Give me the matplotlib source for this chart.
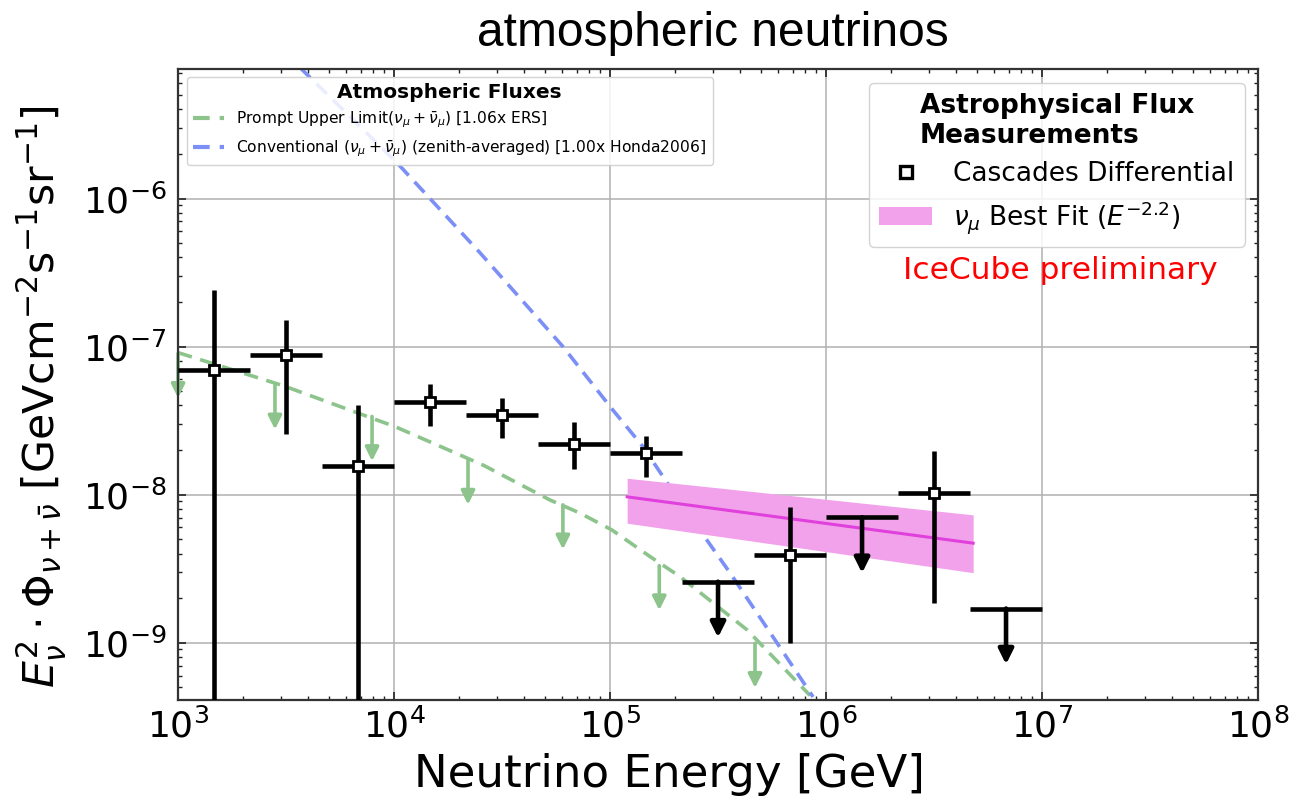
import matplotlib
matplotlib.use("Agg")
import matplotlib.pyplot as plt
import numpy as np
from matplotlib.lines import Line2D
from matplotlib.patches import Patch

# ---------------- data ----------------
# Cascades differential: bin edges, centers, flux and error bounds
bin_lo = [1.0e3, 2.154e3, 4.642e3, 1.0e4, 2.154e4, 4.642e4, 1.0e5, 2.154e5, 4.642e5, 1.0e6, 2.154e6, 4.642e6]
bin_hi = [2.154e3, 4.642e3, 1.0e4, 2.154e4, 4.642e4, 1.0e5, 2.154e5, 4.642e5, 1.0e6, 2.154e6, 4.642e6, 1.0e7]
bin_center = [1.468e3, 3.162e3, 6.813e3, 1.468e4, 3.162e4, 6.813e4, 1.468e5, 3.162e5, 6.813e5, 1.468e6, 3.162e6, 6.813e6]
flux = [6.9e-8, 8.8e-8, 1.55e-8, 4.25e-8, 3.46e-8, 2.19e-8, 1.9e-8, 2.58e-9, 3.92e-9, 7.03e-9, 1.02e-8, 1.7e-9]
flux_lo = [1e-12, 2.57e-8, 1e-12, 2.92e-8, 2.43e-8, 1.49e-8, 1.32e-8, np.nan, 1.0e-9, np.nan, 1.86e-9, np.nan]
flux_hi = [2.4e-7, 1.5e-7, 4.0e-8, 5.6e-8, 4.48e-8, 3.07e-8, 2.5e-8, np.nan, 8.2e-9, np.nan, 1.98e-8, np.nan]
is_upper_limit = [False, False, False, False, False, False, False, True, False, True, False, True]

# Prompt upper limit (green dashed) curve
prompt_E = [1.0e3, 3.08e3, 1.01e4, 2.59e4, 5.27e4, 7.26e4, 1.02e5, 1.53e5, 2.11e5, 4.31e5, 8.43e5]
prompt_flux = [9.1e-8, 5.43e-8, 2.88e-8, 1.58e-8, 9.2e-9, 7.5e-9, 5.77e-9, 3.82e-9, 2.79e-9, 1.22e-9, 4.4e-10]
# Prompt upper-limit arrows
prompt_arrow_E = [1.0e3, 2.81e3, 7.91e3, 2.20e4, 6.05e4, 1.69e5, 4.69e5]
prompt_arrow_flux = [9.0e-8, 5.51e-8, 3.37e-8, 1.71e-8, 8.53e-9, 3.31e-9, 9.9e-10]

# Conventional (blue dashed) curve
conv_E = [3.67e3, 1.033e4, 2.50e4, 6.05e4, 1.03e5, 1.42e5, 2.11e5, 3.60e5, 6.12e5, 8.71e5]
conv_flux = [7.66e-6, 1.74e-6, 4.3e-7, 1.0e-7, 3.73e-8, 2.11e-8, 8.9e-9, 2.95e-9, 9.3e-10, 4.3e-10]

# nu_mu best fit band
fit_E = [1.2e5, 4.8e6]
fit_center = [9.66e-9, 4.7e-9]
fit_low = [6.41e-9, 2.97e-9]
fit_high = [1.29e-8, 7.3e-9]

xticks = [1e3, 1e4, 1e5, 1e6, 1e7, 1e8]
yticks = [1e-9, 1e-8, 1e-7, 1e-6]

# ---------------- styling constants ----------------
GREEN = "#8cc48c"
BLUE = "#7b8ff7"
PINK = "#f2a2ea"
MAGENTA = "#e040dc"
UL_ARROW_FACTOR = 0.42
PROMPT_ARROW_FACTOR = 0.5
DASH = (0, (4, 2.4))

fig = plt.figure(figsize=(12.94, 8.01), dpi=100)
ax = fig.add_axes([0.1376, 0.1261, 0.8346, 0.7878])
ax.set_xscale("log")
ax.set_yscale("log")
ax.set_xlim(1e3, 1e8)
ax.set_ylim(4.1e-10, 7.5e-6)

ax.grid(True, which="major", color="#b0b0b0", lw=1.1, zorder=0)

# curves
ax.plot(prompt_E, prompt_flux, ls=DASH, color=GREEN, lw=2.6, zorder=2)
ax.plot(conv_E, conv_flux, ls=DASH, color=BLUE, lw=2.6, zorder=2)
for e, v in zip(prompt_arrow_E, prompt_arrow_flux):
    ax.annotate("", xy=(e, v * PROMPT_ARROW_FACTOR), xytext=(e, v),
                arrowprops=dict(arrowstyle="-|>", color=GREEN, lw=2.6,
                                mutation_scale=20, shrinkA=0, shrinkB=0),
                zorder=2)

# fit band
ax.fill_between(fit_E, fit_low, fit_high, color=PINK, lw=0, zorder=3)
ax.plot(fit_E, fit_center, color=MAGENTA, lw=2.2, zorder=3)

# data points
bin_center = np.array(bin_center)
flux = np.array(flux)
for i in range(len(flux)):
    xe = [[bin_center[i] - bin_lo[i]], [bin_hi[i] - bin_center[i]]]
    if is_upper_limit[i]:
        ax.errorbar([bin_center[i]], [flux[i]], xerr=xe, fmt="none", ecolor="k",
                    elinewidth=3.3, capsize=0, zorder=5)
        ax.annotate("", xy=(bin_center[i], flux[i] * UL_ARROW_FACTOR),
                    xytext=(bin_center[i], flux[i]),
                    arrowprops=dict(arrowstyle="-|>", color="k", lw=3.3,
                                    mutation_scale=22, shrinkA=0, shrinkB=0),
                    zorder=5)
    else:
        ye = [[flux[i] - flux_lo[i]], [flux_hi[i] - flux[i]]]
        ax.errorbar([bin_center[i]], [flux[i]], xerr=xe, yerr=ye, fmt="s",
                    mfc="white", mec="k", mew=2.0, ms=7.5, ecolor="k",
                    elinewidth=3.3, capsize=0, zorder=5)

# axes styling
ax.set_xticks(xticks)
ax.set_yticks(yticks)
ax.tick_params(which="both", direction="in", top=True, right=True, color="#222222")
ax.tick_params(which="major", length=6, width=1.2, labelsize=26)
ax.tick_params(axis="x", which="major", pad=6)
ax.tick_params(axis="y", which="major", pad=8)
ax.tick_params(which="minor", length=3, width=1.0)
for s in ax.spines.values():
    s.set_color("#333333")
    s.set_linewidth(1.6)

ax.set_xlabel("Neutrino Energy [GeV]", fontsize=32.5, labelpad=6)
ax.xaxis.label.set_x(0.455)
ax.set_ylabel(r"$E_{\nu}^{2}\cdot\Phi_{\nu+\bar{\nu}}$ [GeVcm$^{-2}$s$^{-1}$sr$^{-1}$]",
              fontsize=30.7, labelpad=11)
ax.yaxis.label.set_y(0.48)

# legends
h1 = [Line2D([], [], ls=DASH, color=GREEN, lw=3),
      Line2D([], [], ls=DASH, color=BLUE, lw=3)]
l1 = [r"Prompt Upper Limit($\nu_{\mu}+\bar{\nu}_{\mu}$) [1.06x ERS]",
      r"Conventional ($\nu_{\mu}+\bar{\nu}_{\mu}$) (zenith-averaged) [1.00x Honda2006]"]
leg1 = ax.legend(h1, l1, title="Atmospheric Fluxes", loc="upper left",
                 bbox_to_anchor=(0.008, 0.988), borderaxespad=0, fontsize=11.2,
                 title_fontproperties={"weight": "bold", "size": 14.5},
                 handlelength=2.0, labelspacing=0.5, framealpha=0.85, fancybox=True)
ax.add_artist(leg1)

h2 = [Line2D([], [], ls="none", marker="s", mfc="white", mec="k", mew=2.4, ms=8),
      Patch(facecolor=PINK, edgecolor="none")]
l2 = ["Cascades Differential", r"$\nu_{\mu}$ Best Fit ($E^{-2.2}$)"]
leg2 = ax.legend(h2, l2, title="Astrophysical Flux\nMeasurements", loc="upper right",
                 bbox_to_anchor=(0.988, 0.978), borderaxespad=0, fontsize=19,
                 title_fontproperties={"weight": "bold", "size": 19},
                 handlelength=2.0, labelspacing=0.45, framealpha=0.85, fancybox=True)

ax.text(0.817, 0.681, "IceCube preliminary", color="red", fontsize=22.5,
        ha="center", va="center", transform=ax.transAxes)

fig.text(0.551, 0.958, "atmospheric neutrinos", fontsize=34.5, ha="center", va="center",
         family="Liberation Sans")

fig.savefig("out.png", dpi=100)
